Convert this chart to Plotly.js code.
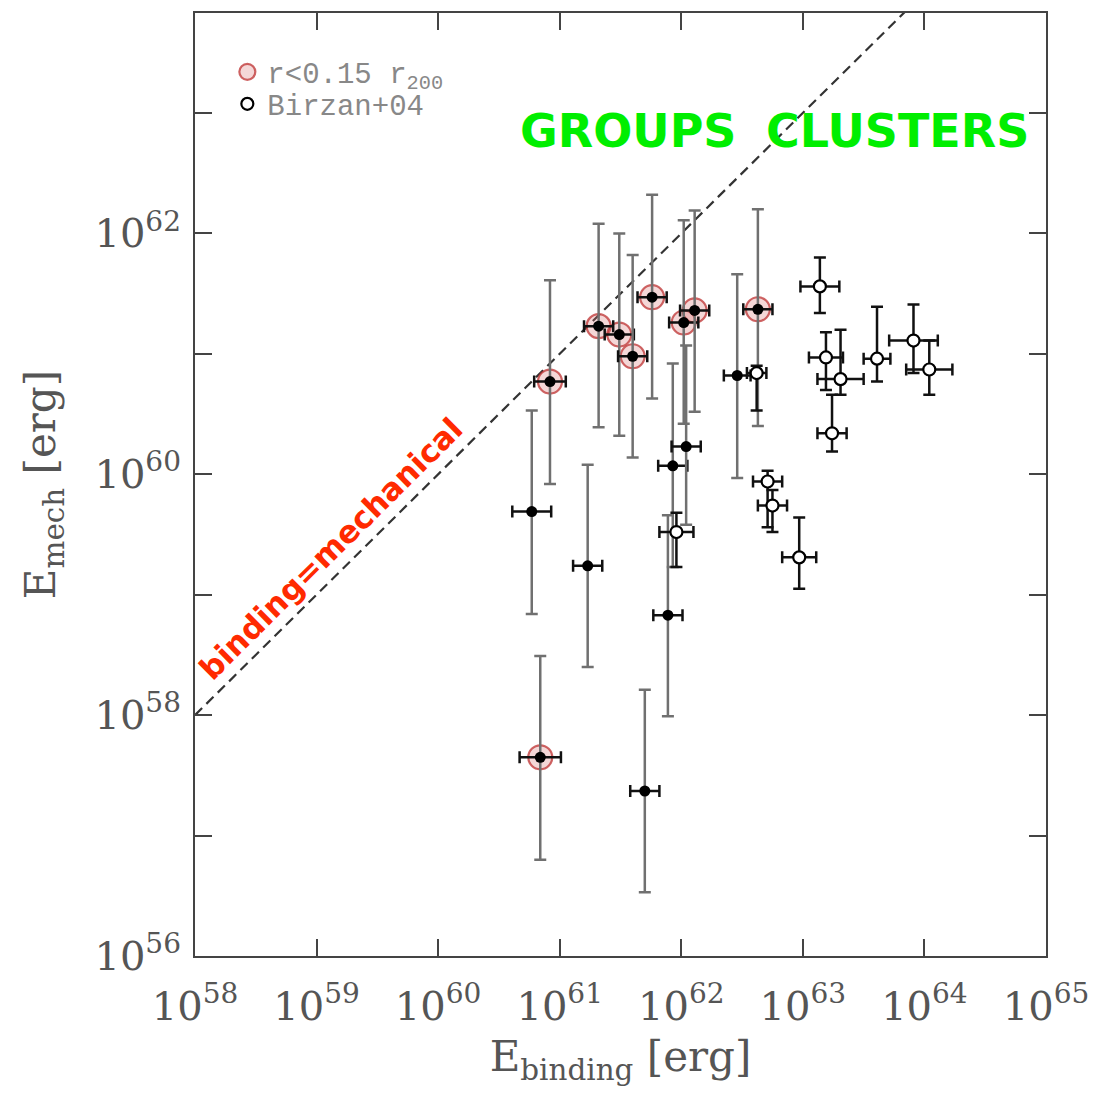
<!DOCTYPE html>
<html>
<head>
<meta charset="utf-8">
<script src="https://cdn.plot.ly/plotly-3.0.1.min.js"></script>
<style>html,body{margin:0;padding:0;background:#fff;}#chart{width:1094px;height:1094px;}</style>
</head>
<body>
<div id="chart"></div>
<script>
// ---- Data (all values as log10 of erg) ----
// Main sample (filled black points)
var mainLogEbind = [60.92, 61.32, 61.49, 61.60, 61.76, 62.02, 62.11, 62.63, 60.84, 60.77, 61.23, 61.93, 62.04, 61.89, 61.70, 62.46];
var mainLogEmech = [60.77, 61.23, 61.16, 60.98, 61.47, 61.26, 61.36, 61.37, 57.65, 59.69, 59.24, 60.07, 60.23, 58.83, 57.37, 60.82];
var mainLogEmechHi = [61.61, 62.08, 62.00, 61.82, 62.32, 62.11, 62.19, 62.20, 58.49, 60.53, 60.08, 60.92, 61.07, 59.66, 58.21, 61.66];
var mainLogEmechLo = [59.92, 60.39, 60.32, 60.14, 60.63, 60.42, 60.52, 60.40, 56.80, 58.84, 58.40, 59.23, 59.58, 57.99, 56.53, 59.97];
var mainEbindErrDex = [0.13, 0.12, 0.12, 0.12, 0.12, 0.12, 0.12, 0.12, 0.17, 0.16, 0.12, 0.12, 0.12, 0.12, 0.12, 0.11];
var mainInnerFlag = [1, 1, 1, 1, 1, 1, 1, 1, 1, 0, 0, 0, 0, 0, 0, 0]; // r<0.15 r200

// Birzan+04 (open circles)
var birzLogEbind = [62.62, 63.14, 63.19, 63.31, 63.24, 63.61, 63.91, 64.04, 62.71, 62.75, 62.97, 61.96];
var birzLogEmech = [60.84, 61.56, 60.97, 60.79, 60.34, 60.96, 61.11, 60.87, 59.94, 59.74, 59.31, 59.52];
var birzLogEmechHi = [60.90, 61.80, 61.18, 61.20, 60.66, 61.39, 61.41, 61.11, 60.03, 59.87, 59.64, 59.68];
var birzLogEmechLo = [60.53, 61.34, 60.70, 60.66, 60.19, 60.77, 60.84, 60.66, 59.56, 59.52, 59.05, 59.23];
var birzEbindErrDex = [0.08, 0.16, 0.14, 0.19, 0.12, 0.11, 0.20, 0.19, 0.12, 0.12, 0.14, 0.14];

// binding = mechanical line (log10 erg)
var equalityLog = [58, 64];

// Tick labels
var xTickExp = [58, 59, 60, 61, 62, 63, 64, 65];
var xTickText = ['10<sup>58</sup>', '10<sup>59</sup>', '10<sup>60</sup>', '10<sup>61</sup>', '10<sup>62</sup>', '10<sup>63</sup>', '10<sup>64</sup>', '10<sup>65</sup>'];
var yTickExp = [56, 58, 60, 62];
var yTickText = ['10<sup>56</sup>', '10<sup>58</sup>', '10<sup>60</sup>', '10<sup>62</sup>'];
var yMinorExp = [57, 59, 61, 63];

// ---- helpers ----
function p10(v) { return Math.pow(10, v); }
function lin(arr) { return arr.map(p10); }
function errPlus(c, hi) { return c.map(function (v, i) { return p10(hi[i]) - p10(v); }); }
function errMinus(c, lo) { return c.map(function (v, i) { return p10(v) - p10(lo[i]); }); }
function dexPlus(c, d) { return c.map(function (v, i) { return p10(v + d[i]) - p10(v); }); }
function dexMinus(c, d) { return c.map(function (v, i) { return p10(v) - p10(v - d[i]); }); }
function pick(arr, flags) { return arr.filter(function (v, i) { return flags[i] === 1; }); }

var serif = 'DejaVu Serif, serif';
var textGray = '#555';

var traces = [];

// line y = x
traces.push({
  x: lin(equalityLog), y: lin(equalityLog), mode: 'lines', type: 'scatter',
  line: { color: '#333', width: 2.2, dash: '10px,6px' }, showlegend: false, hoverinfo: 'skip'
});

// Halo for r<0.15 r200
traces.push({
  x: lin(pick(mainLogEbind, mainInnerFlag)), y: lin(pick(mainLogEmech, mainInnerFlag)),
  mode: 'markers', type: 'scatter', name: 'r&lt;0.15 r<sub>200</sub>',
  marker: { symbol: 'circle', size: 24, color: 'rgba(215,110,110,0.28)', line: { color: 'rgba(190,50,50,0.75)', width: 2.2 } },
  showlegend: true, legend: 'legend'
});

// Main filled sample
traces.push({
  x: lin(mainLogEbind), y: lin(mainLogEmech), mode: 'markers', type: 'scatter',
  marker: { symbol: 'circle', size: 11, color: '#000' },
  error_y: { type: 'data', symmetric: false, array: errPlus(mainLogEmech, mainLogEmechHi), arrayminus: errMinus(mainLogEmech, mainLogEmechLo), color: '#707070', thickness: 2.5, width: 6 },
  error_x: { type: 'data', symmetric: false, array: dexPlus(mainLogEbind, mainEbindErrDex), arrayminus: dexMinus(mainLogEbind, mainEbindErrDex), color: '#111', thickness: 2.5, width: 6 },
  showlegend: false
});

// Birzan+04
traces.push({
  x: lin(birzLogEbind), y: lin(birzLogEmech), mode: 'markers', type: 'scatter', name: 'Birzan+04',
  marker: { symbol: 'circle', size: 12, color: '#fff', line: { color: '#000', width: 2.2 } },
  error_y: { type: 'data', symmetric: false, array: errPlus(birzLogEmech, birzLogEmechHi), arrayminus: errMinus(birzLogEmech, birzLogEmechLo), color: '#111', thickness: 2.5, width: 6 },
  error_x: { type: 'data', symmetric: false, array: dexPlus(birzLogEbind, birzEbindErrDex), arrayminus: dexMinus(birzLogEbind, birzEbindErrDex), color: '#111', thickness: 2.5, width: 6 },
  showlegend: true, legend: 'legend2'
});

var axisCommon = {
  type: 'log', showgrid: false, zeroline: false,
  showline: true, linecolor: '#444', linewidth: 2, mirror: 'ticks',
  ticks: 'inside', ticklen: 17, tickwidth: 2, tickcolor: '#444',
  tickmode: 'array', tickfont: { family: serif, size: 40, color: textGray }
};

var legendCommon = {
  xanchor: 'left', yanchor: 'middle',
  bgcolor: 'rgba(0,0,0,0)', font: { family: 'Liberation Mono, monospace', size: 29, color: '#888' },
  itemsizing: 'trace'
};

var layout = {
  width: 1094, height: 1094,
  paper_bgcolor: '#fff', plot_bgcolor: '#fff',
  margin: { l: 195, r: 48, t: 13, b: 138 },
  showlegend: true,
  legend: Object.assign({}, legendCommon, { x: 0.038, y: (956 - 72) / 943 }),
  legend2: Object.assign({}, legendCommon, { x: 0.038, y: (956 - 104) / 943 }),
  xaxis: Object.assign({}, axisCommon, {
    range: [58, 65],
    tickvals: lin(xTickExp), ticktext: xTickText, ticklabelstandoff: 14,
    title: { text: 'E<sub>binding</sub> [erg]', font: { family: serif, size: 42, color: textGray }, standoff: 14 }
  }),
  yaxis: Object.assign({}, axisCommon, {
    range: [56, 63.83],
    tickvals: lin(yTickExp), ticktext: yTickText, ticklabelstandoff: 4,
    minor: { tickmode: 'array', tickvals: lin(yMinorExp), ticks: 'inside', ticklen: 17, tickwidth: 2, tickcolor: '#444', showgrid: false },
    title: { text: 'E<sub>mech</sub> [erg]', font: { family: serif, size: 42, color: textGray }, standoff: 26 }
  }),
  annotations: [
    { xref: 'paper', yref: 'paper', x: 0.159, y: 0.432, text: 'binding=mechanical', showarrow: false, textangle: -44.8,
      font: { family: 'DejaVu Sans, sans-serif', weight: 'bold', size: 31, color: '#ff2a00' }, xanchor: 'center', yanchor: 'middle' },
    { xref: 'paper', yref: 'paper', x: 0.509, y: 0.875, text: '<b>GROUPS</b>', showarrow: false,
      font: { family: 'DejaVu Sans, sans-serif', size: 46, color: '#00ee00' }, xanchor: 'center', yanchor: 'middle' },
    { xref: 'paper', yref: 'paper', x: 0.825, y: 0.875, text: '<b>CLUSTERS</b>', showarrow: false,
      font: { family: 'DejaVu Sans, sans-serif', size: 46, color: '#00ee00' }, xanchor: 'center', yanchor: 'middle' }
  ]
};

Plotly.newPlot('chart', traces, layout, { displayModeBar: false, staticPlot: true });
</script>
</body>
</html>
